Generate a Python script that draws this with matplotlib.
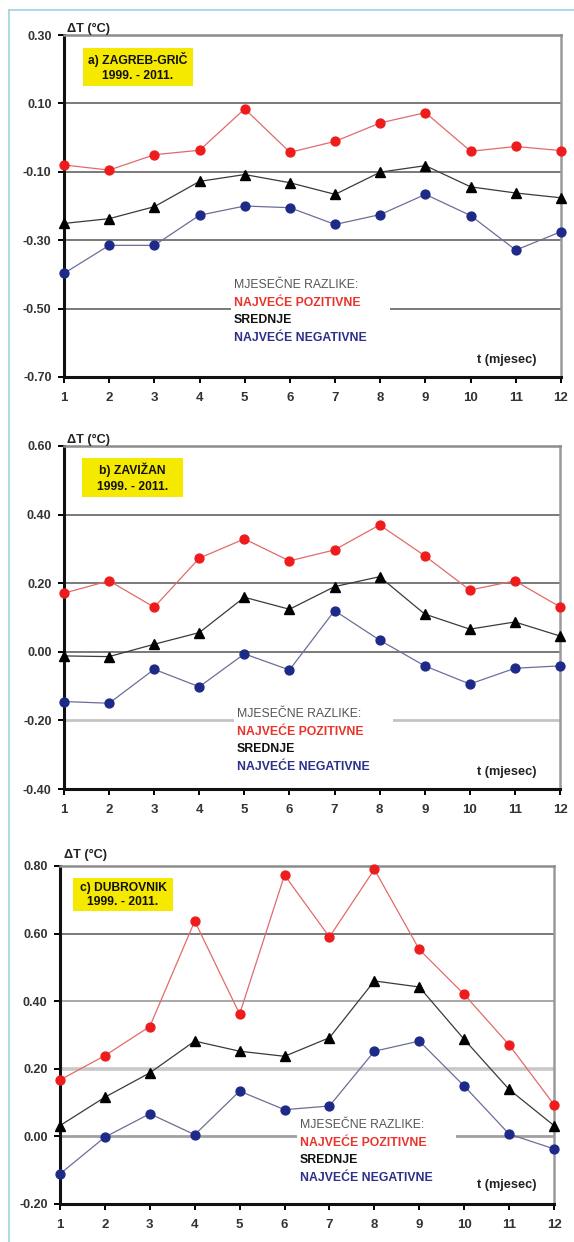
import matplotlib
matplotlib.use("Agg")
import matplotlib.pyplot as plt
from matplotlib.patches import Rectangle
from matplotlib.lines import Line2D

plt.rcParams['font.family'] = ['Liberation Sans', 'DejaVu Sans']

# Monthly temperature differences, 1999 - 2011
months = list(range(1, 13))

zagreb_max = [-0.080, -0.095, -0.050, -0.037, 0.084, -0.043, -0.011, 0.043, 0.073, -0.040, -0.026, -0.038]
zagreb_mean = [-0.251, -0.237, -0.202, -0.128, -0.108, -0.132, -0.166, -0.101, -0.082, -0.144, -0.162, -0.176]
zagreb_min = [-0.397, -0.315, -0.315, -0.227, -0.200, -0.205, -0.254, -0.225, -0.166, -0.228, -0.329, -0.275]

zavizan_max = [0.171, 0.207, 0.130, 0.273, 0.329, 0.265, 0.297, 0.370, 0.280, 0.180, 0.207, 0.131]
zavizan_mean = [-0.012, -0.014, 0.022, 0.056, 0.159, 0.124, 0.190, 0.219, 0.110, 0.066, 0.087, 0.046]
zavizan_min = [-0.145, -0.150, -0.051, -0.102, -0.006, -0.053, 0.120, 0.034, -0.041, -0.094, -0.048, -0.041]

dubrovnik_max = [0.167, 0.239, 0.325, 0.637, 0.362, 0.773, 0.590, 0.790, 0.553, 0.420, 0.271, 0.094]
dubrovnik_mean = [0.032, 0.116, 0.188, 0.282, 0.252, 0.237, 0.292, 0.460, 0.442, 0.287, 0.139, 0.032]
dubrovnik_min = [-0.111, -0.002, 0.067, 0.005, 0.134, 0.079, 0.090, 0.252, 0.282, 0.149, 0.007, -0.037]

zagreb_ticks = [-0.70, -0.50, -0.30, -0.10, 0.10, 0.30]
zavizan_ticks = [-0.40, -0.20, 0.00, 0.20, 0.40, 0.60]
dubrovnik_ticks = [-0.20, 0.00, 0.20, 0.40, 0.60, 0.80]

titles = ["a) ZAGREB-GRIČ", "b) ZAVIŽAN", "c) DUBROVNIK"]
period = "1999. - 2011."
legend_head = "MJESEČNE RAZLIKE:"
legend_rows = ["NAJVEĆE POZITIVNE", "SREDNJE", "NAJVEĆE NEGATIVNE"]
ylabel = "ΔT (°C)"
xlabel = "t (mjesec)"

W, H = 574, 1242
fig = plt.figure(figsize=(W / 100, H / 100), dpi=100)
fig.patch.set_facecolor("white")

RED_LINE, RED_MK = "#e26a6a", "#ee1c1c"
BLK_LINE, BLK_MK = "#3a3a3a", "#000000"
BLU_LINE, BLU_MK = "#6d6d98", "#1e2a88"
TXT_RED, TXT_BLU, TXT_GRAY = "#e8342b", "#2b3088", "#555555"


def fx(x):
    return x / W


def fy(y):
    return 1 - y / H


def ftext(x, y, s, **kw):
    fig.text(fx(x), fy(y), s, **kw)


def frect(x0, y0, x1, y1, color, z):
    fig.patches.append(Rectangle((fx(x0), fy(y1)), (x1 - x0) / W, (y1 - y0) / H,
                                 transform=fig.transFigure, facecolor=color,
                                 edgecolor="none", zorder=z))


# outer frame
fig.lines.append(Line2D([fx(9), fx(9)], [fy(10), fy(1242)], transform=fig.transFigure,
                        color="#a6d6e4", lw=1.3))
fig.lines.append(Line2D([fx(9), fx(574)], [fy(10), fy(10)], transform=fig.transFigure,
                        color="#a6d6e4", lw=1.3))

panels = [
    dict(box=(64, 35, 561, 377), data=(zagreb_max, zagreb_mean, zagreb_min), ticks=zagreb_ticks,
         grid={0.10: ("#555555", 1.1), -0.10: ("#555555", 1.1), -0.30: ("#555555", 1.1),
               -0.50: ("#555555", 1.1)},
         ybox=(83, 48, 193, 86), ylab=(67, 29), leg=(234, 285, 231, 277, 390, 349), tx=(507, 360)),
    dict(box=(64, 446, 560, 789), data=(zavizan_max, zavizan_mean, zavizan_min), ticks=zavizan_ticks,
         grid={0.40: ("#555555", 1.1), 0.20: ("#555555", 1.1), 0.00: ("#555555", 1.1),
               -0.20: ("#c4c4c4", 2.0)},
         ybox=(82, 458, 183, 497), ylab=(67, 440), leg=(237, 714, 234, 706, 393, 775), tx=(507, 772)),
    dict(box=(60, 866, 554, 1204), data=(dubrovnik_max, dubrovnik_mean, dubrovnik_min), ticks=dubrovnik_ticks,
         grid={0.60: ("#555555", 1.1), 0.40: ("#9a9a9a", 1.2), 0.20: ("#c8c8c8", 2.6),
               0.00: ("#a0a0a0", 2.0)},
         ybox=(73, 878, 173, 911), ylab=(64, 855), leg=(300, 1125, 297, 1117, 456, 1186), tx=(507, 1185)),
]

for i, p in enumerate(panels):
    l, t, r, b = p["box"]
    ax = fig.add_axes([fx(l), fy(b), (r - l) / W, (b - t) / H])
    ax.set_facecolor("white")
    ticks = p["ticks"]
    ax.set_xlim(1, 12)
    ax.set_ylim(ticks[0], ticks[-1])

    for yv, (c, lw) in p["grid"].items():
        ax.axhline(yv, color=c, lw=lw, zorder=1)

    mx, mean, mn = p["data"]
    ax.plot(months, mx, color=RED_LINE, lw=0.9, marker="o", ms=6.4,
            mfc=RED_MK, mec=RED_MK, zorder=4, clip_on=False)
    ax.plot(months, mean, color=BLK_LINE, lw=0.9, marker="^", ms=6.8,
            mfc=BLK_MK, mec=BLK_MK, zorder=4, clip_on=False)
    ax.plot(months, mn, color=BLU_LINE, lw=0.9, marker="o", ms=6.4,
            mfc=BLU_MK, mec=BLU_MK, zorder=4, clip_on=False)

    ax.set_yticks(ticks)
    ax.set_yticklabels([f"{v:.2f}" for v in ticks])
    ax.set_xticks(months)
    ax.set_xticklabels([str(m) for m in months])
    ax.tick_params(axis="y", direction="out", length=4, width=1.4, pad=5,
                   labelsize=9, colors="#000000", labelcolor="#333333")
    ax.tick_params(axis="x", direction="out", length=4, width=1.4, pad=7,
                   labelsize=9.5, labelcolor="#333333")
    for lab in ax.get_xticklabels() + ax.get_yticklabels():
        lab.set_fontweight("bold")

    ax.spines["left"].set_color("#111111")
    ax.spines["left"].set_linewidth(2.2)
    ax.spines["bottom"].set_color("#111111")
    ax.spines["bottom"].set_linewidth(2.2)
    ax.spines["top"].set_color("#8c8c8c")
    ax.spines["top"].set_linewidth(1.8)
    ax.spines["right"].set_color("#9a9a9a")
    ax.spines["right"].set_linewidth(1.8)

    # station label box
    x0, y0, x1, y1 = p["ybox"]
    frect(x0, y0, x1, y1, "#f6e900", 5)
    cx = (x0 + x1) / 2
    ftext(cx, y0 + (y1 - y0) * 0.3, titles[i], ha="center", va="center",
          fontsize=8.7, fontweight="bold", color="#111111", zorder=6)
    ftext(cx, y0 + (y1 - y0) * 0.74, period, ha="center", va="center",
          fontsize=8.7, fontweight="bold", color="#111111", zorder=6)

    # axis labels
    ftext(p["ylab"][0], p["ylab"][1], ylabel, ha="left", va="center",
          fontsize=9.2, fontweight="bold", color="#222222", zorder=6)
    ftext(p["tx"][0], p["tx"][1], xlabel, ha="center", va="center",
          fontsize=9.2, fontweight="bold", color="#222222", zorder=6)

    # legend
    lx, ly, bx0, by0, bx1, by1 = p["leg"]
    frect(bx0, by0, bx1, by1, "white", 5)
    step = 17.7
    ftext(lx, ly, legend_head, ha="left", va="center", fontsize=8.8,
          color=TXT_GRAY, zorder=6)
    for k, (s, c) in enumerate(zip(legend_rows, [TXT_RED, "#111111", TXT_BLU])):
        ftext(lx, ly + step * (k + 1), s, ha="left", va="center", fontsize=8.8,
              fontweight="bold", color=c, zorder=6)

fig.savefig("out.png", dpi=100, facecolor="white")
